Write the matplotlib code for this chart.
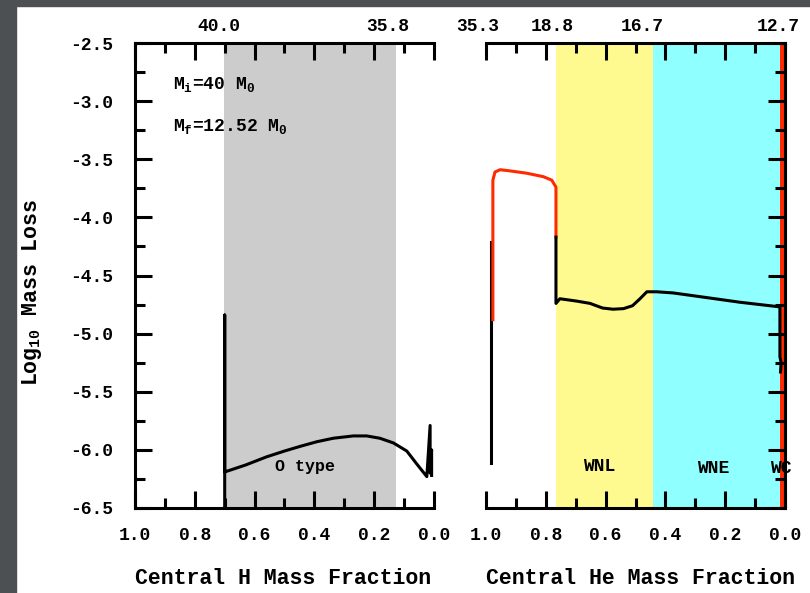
import matplotlib; matplotlib.use("Agg")
import matplotlib.pyplot as plt
import matplotlib.ticker as mticker
from matplotlib.patches import Rectangle

# 左: 中心H质量分数; 右: 中心He质量分数
h_x = [0.70, 0.70, 0.70, 0.63, 0.56, 0.50, 0.448, 0.392, 0.337, 0.27, 0.225, 0.181, 0.136, 0.091, 0.058, 0.024, 0.013, 0.013, 0.008, 0.008]
h_y = [-6.5, -4.84, -6.19, -6.13, -6.06, -6.01, -5.97, -5.93, -5.90, -5.88, -5.88, -5.90, -5.94, -6.01, -6.12, -6.23, -5.79, -6.20, -6.00, -6.22]
he_x1 = [0.983, 0.983]
he_y1 = [-6.11, -4.21]
he_red_x = [0.977, 0.977, 0.970, 0.953, 0.92, 0.864, 0.808, 0.78, 0.766, 0.766]
he_red_y = [-4.88, -3.68, -3.61, -3.59, -3.60, -3.62, -3.65, -3.68, -3.74, -4.17]
he_x2 = [0.766, 0.766, 0.753, 0.697, 0.652, 0.610, 0.575, 0.540, 0.510, 0.485, 0.462, 0.429, 0.374, 0.262, 0.151, 0.017, 0.017, 0.013, 0.015]
he_y2 = [-4.17, -4.74, -4.70, -4.72, -4.74, -4.78, -4.79, -4.785, -4.76, -4.70, -4.64, -4.64, -4.65, -4.69, -4.73, -4.77, -5.20, -5.25, -5.33]

o_band = (0.702, 0.127)
wnl_band = (0.766, 0.442)
wne_band = (0.442, 0.018)
wc_band = (0.018, 0.0)
h_top_pos = [0.719, 0.154]; h_top_lab = ["40.0", "35.8"]
he_top_pos = [1.027, 0.779, 0.478, 0.023]; he_top_lab = ["35.3", "18.8", "16.7", "12.7"]

FONT = "Liberation Mono"
plt.rcParams["font.family"] = FONT; plt.rcParams["font.weight"] = "bold"
plt.rcParams["axes.unicode_minus"] = False
plt.rcParams["mathtext.fontset"] = "custom"
for k in ["rm", "it", "bf"]: plt.rcParams[f"mathtext.{k}"] = f"{FONT}:bold"

W, H = 810, 593
fig = plt.figure(figsize=(W / 100, H / 100), dpi=100, facecolor="white")
bg = "#4c5052"
fig.patches.append(Rectangle((0, 0), 16 / W, 1, transform=fig.transFigure, color=bg, zorder=-10))
fig.patches.append(Rectangle((0, 1 - 6 / H), 1, 6 / H, transform=fig.transFigure, color=bg, zorder=-10))

axh = fig.add_axes([135 / W, 1 - 508 / H, 299 / W, 465 / H])
axe = fig.add_axes([486 / W, 1 - 508 / H, 299 / W, 465 / H])

for ax in (axh, axe):
    ax.set_xlim(1.0, 0.0); ax.set_ylim(-6.5, -2.5)
    ax.xaxis.set_major_locator(mticker.MultipleLocator(0.2)); ax.xaxis.set_minor_locator(mticker.MultipleLocator(0.1))
    ax.yaxis.set_major_locator(mticker.MultipleLocator(0.5)); ax.yaxis.set_minor_locator(mticker.MultipleLocator(0.25))
    ax.xaxis.set_major_formatter(mticker.FormatStrFormatter("%.1f"))
    ax.yaxis.set_major_formatter(mticker.FormatStrFormatter("%.1f"))
    ax.tick_params(which="both", direction="in", top=True, width=2.2, labelsize=13)
    ax.tick_params(which="major", length=12); ax.tick_params(which="minor", length=7)
    ax.tick_params(axis="x", pad=14); ax.tick_params(axis="y", pad=16)
    for s in ax.spines.values(): s.set_linewidth(2.2)

axh.spines["right"].set_visible(False); axh.tick_params(which="both", right=False)
axe.spines["left"].set_visible(False); axe.tick_params(which="both", left=False, labelleft=False, right=True)

axh.axvspan(*o_band, color="#cccccc", lw=0, zorder=0)
axe.axvspan(*wnl_band, color="#fffa8f", lw=0, zorder=0)
axe.axvspan(*wne_band, color="#8fffff", lw=0, zorder=0)
axe.axvspan(*wc_band, color="#ff2a00", lw=0, zorder=0)

axh.plot(h_x, h_y, color="black", lw=2.2, clip_on=False)
axe.plot(he_x1, he_y1, color="black", lw=2.2)
axe.plot(he_red_x, he_red_y, color="#ff2a00", lw=2.2)
axe.plot(he_x2, he_y2, color="black", lw=2.2)

axh.text(0.873, -2.86, "M$_i$=40 M$_0$", fontsize=13, va="center")
axh.text(0.873, -3.22, "M$_f$=12.52 M$_0$", fontsize=13, va="center")
axh.text(0.431, -6.14, "O type", fontsize=12, ha="center", va="center")
axe.text(0.622, -6.147, "WNL", fontsize=13, ha="center", va="center")
axe.text(0.241, -6.156, "WNE", fontsize=13, ha="center", va="center")
axe.text(0.0134, -6.156, "WC", fontsize=13, ha="center", va="center", clip_on=False)

for ax, ps, ls in [(axh, h_top_pos, h_top_lab), (axe, he_top_pos, he_top_lab)]:
    for p, l in zip(ps, ls):
        ax.text(p, 1.035, l, transform=ax.get_xaxis_transform(), fontsize=13, ha="center", va="center", clip_on=False)

fig.text(32 / W, 1 - 292 / H, "Log$_{10}$ Mass Loss", rotation=90, fontsize=15.5, ha="center", va="center")
fig.text(283 / W, 1 - 578 / H, "Central H Mass Fraction", fontsize=15.5, ha="center", va="center")
fig.text(640 / W, 1 - 578 / H, "Central He Mass Fraction", fontsize=15.5, ha="center", va="center")

fig.savefig("out.png", dpi=100)
